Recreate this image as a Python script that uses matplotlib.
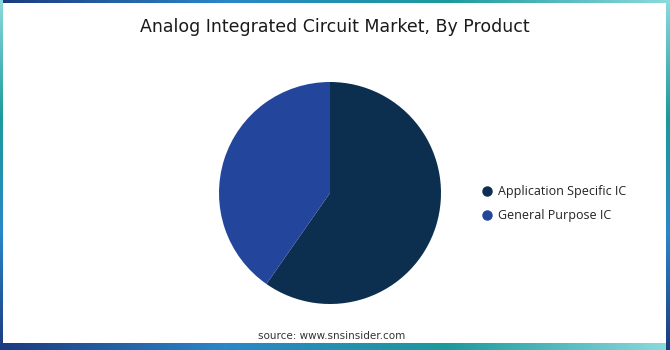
import numpy as np
import matplotlib
matplotlib.use("Agg")
from matplotlib import pyplot as plt
from matplotlib.colors import LinearSegmentedColormap

# data
products = ["Application Specific IC", "General Purpose IC"]
shares = [59.7, 40.3]
colors = ["#0c2f4f", "#23469c"]

title = "Analog Integrated Circuit Market, By Product"
source = "source: www.snsinsider.com"

W, H = 670, 350
fig = plt.figure(figsize=(W / 100, H / 100), dpi=100)
fig.patch.set_facecolor("white")

# frame ======================
frame = fig.add_axes([0, 0, 1, 1])
frame.axis("off")

grad = LinearSegmentedColormap.from_list(
    "frame", ["#1c3a80", "#2a86c8", "#1c9a9c", "#8cdadd"])
horiz = np.linspace(0, 1, 256).reshape(1, -1)
vert = np.linspace(1, 0, 256).reshape(-1, 1)

frame.imshow(horiz, cmap=grad, aspect="auto", extent=(0, W, 3, 0))
frame.imshow(horiz, cmap=grad, aspect="auto", extent=(0, W, H, H - 7))
frame.imshow(vert, cmap=grad, aspect="auto", extent=(0, 3, H, 0))
frame.imshow(vert, cmap=grad, aspect="auto", extent=(W - 4, W, H, 0))
frame.set_xlim(0, W)
frame.set_ylim(H, 0)

frame.text(335, 27, title, ha="center", va="center", fontsize=12.5,
           family="DejaVu Sans", color="#1a1a1a")
frame.text(332, 336, source, ha="center", va="center", fontsize=7.5,
           family="DejaVu Sans", color="#333333")

# pie ========================
cx, cy, r = 330, 193, 111
ax = fig.add_axes([(cx - r) / W, (H - cy - r) / H, 2 * r / W, 2 * r / H])
ax.pie(shares, colors=colors, startangle=90, counterclock=False,
       wedgeprops=dict(linewidth=0))
ax.set_xlim(-1, 1)
ax.set_ylim(-1, 1)
ax.set_aspect("equal")

# legend =====================
for i, (name, c) in enumerate(zip(products, colors)):
    y = 191 + i * 24
    frame.plot(487, y, "o", color=c, markersize=6.5)
    frame.text(498, y, name, ha="left", va="center", fontsize=9,
               family="Open Sans", color="#222222")

fig.savefig("out.png", dpi=100)
